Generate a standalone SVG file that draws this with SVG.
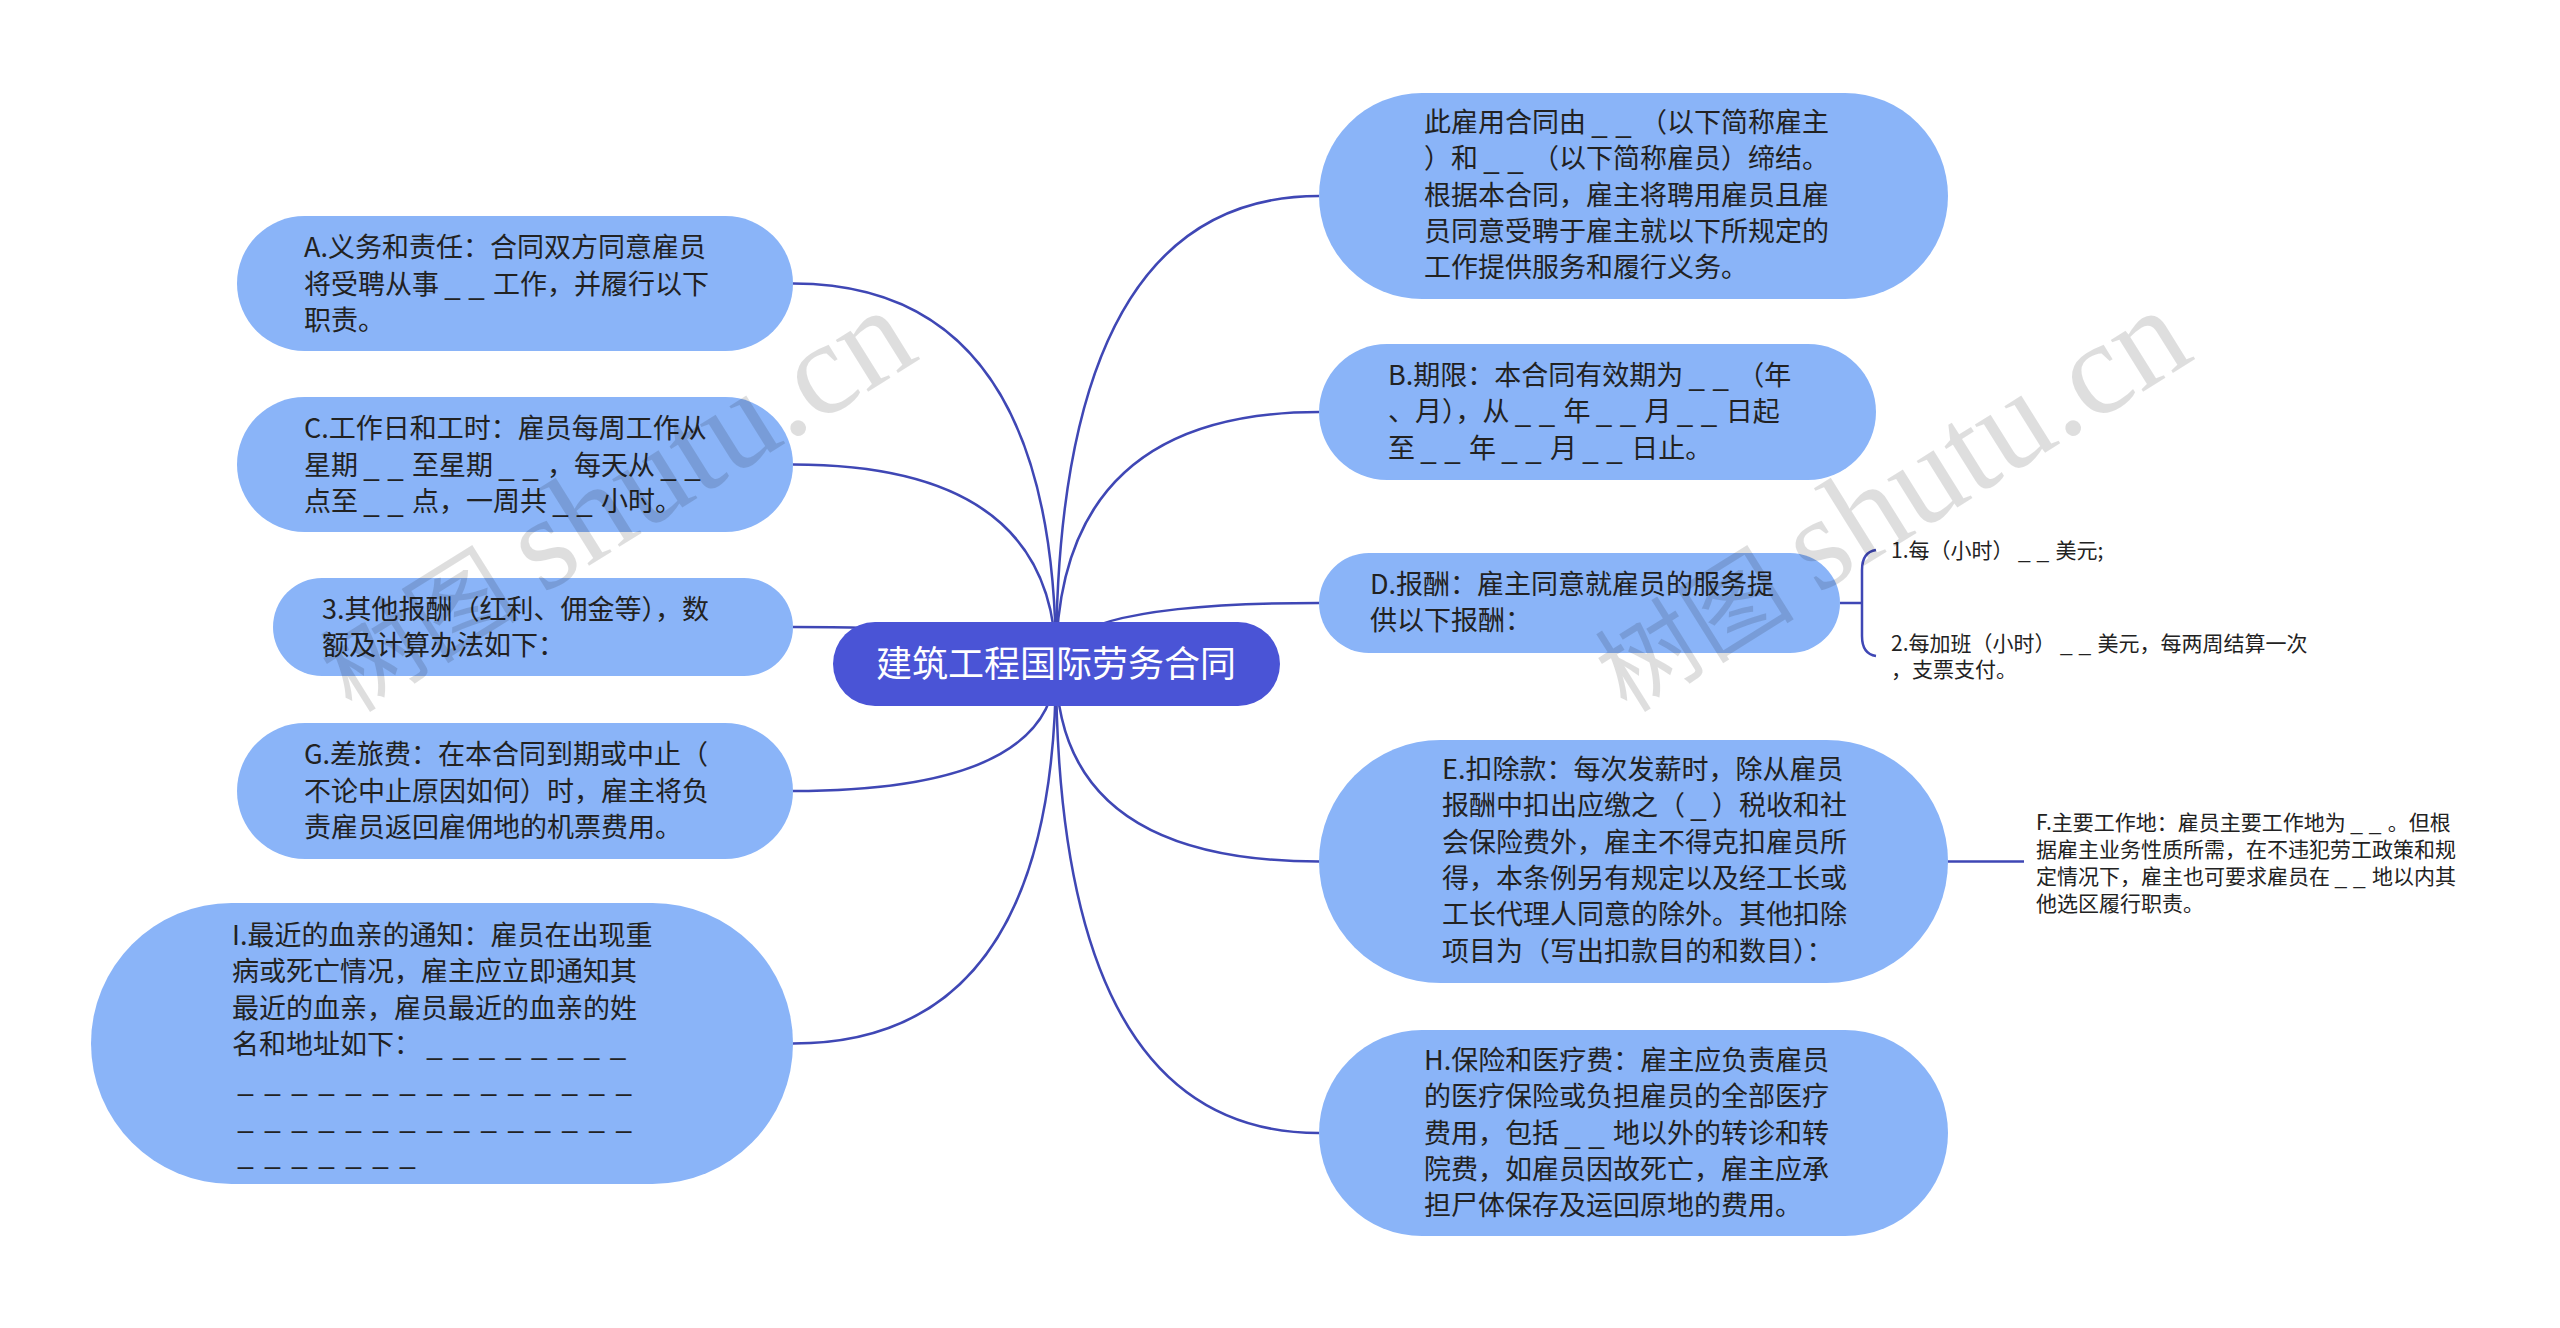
<svg xmlns="http://www.w3.org/2000/svg" width="2560" height="1328" viewBox="0 0 2560 1328">
<style>
.bg{fill:#ffffff}
.link{fill:none;stroke:#3f47b5;stroke-width:2.5}
.node{fill:#8ab4f8}
.root{fill:#4a54d6}
.t{font-family:"Noto Sans CJK SC","Noto Sans",sans-serif;font-size:27px;fill:#222}
.s{font-family:"Noto Sans CJK SC","Noto Sans",sans-serif;font-size:21px;fill:#222}
.u,.u1,.u2,.u8,.us2{font-family:"Liberation Sans",sans-serif}
.u{letter-spacing:12px}
.u1{letter-spacing:6px}
.u2{letter-spacing:9px}
.u8{letter-spacing:11.2px}
.us2{letter-spacing:6.8px}
.rt{font-family:"Noto Sans CJK SC","Noto Sans",sans-serif;font-size:36px;fill:#ffffff}
.wm{font-family:"Liberation Serif","Noto Sans CJK SC",serif;font-size:100px;fill:#000;fill-opacity:0.13}
.wm .l{font-size:133px}
</style>
<rect class="bg" x="0" y="0" width="2560" height="1328"/>
<g id="connectors">
<path class="link" d="M1056 664 Q1056 283.5 793 283.5"/>
<path class="link" d="M1056 664 Q1056 464.5 793 464.5"/>
<path class="link" d="M1056 664 Q1056 627 793 627"/>
<path class="link" d="M1056 664 Q1056 791 793 791"/>
<path class="link" d="M1056 664 Q1056 1043.5 793 1043.5"/>
<path class="link" d="M1056 664 Q1056 196 1319 196"/>
<path class="link" d="M1056 664 Q1056 412 1319 412"/>
<path class="link" d="M1056 664 Q1056 603 1319 603"/>
<path class="link" d="M1056 664 Q1056 861.5 1319 861.5"/>
<path class="link" d="M1056 664 Q1056 1133 1319 1133"/>
<path class="link" d="M1840 603 H1862 M1876 550 Q1862 552 1862 570 V636 Q1862 654 1876 656"/>
<path class="link" d="M1948 861.5 H2024"/>
</g>
<g id="root">
<rect class="root" x="833" y="622" width="447" height="84" rx="42"/>
<text class="rt" x="1056" y="677" text-anchor="middle">建筑工程国际劳务合同</text>
</g>
<g id="nodeA">
<rect class="node" x="237" y="216" width="556" height="135" rx="67.5"/>
<text class="t"><tspan x="304" y="257">A.义务和责任：合同双方同意雇员</tspan><tspan x="304" y="293.5">将受聘从事<tspan class="u2" dx="6">__</tspan>工作，并履行以下</tspan><tspan x="304" y="330">职责。</tspan></text>
</g>
<g id="nodeC">
<rect class="node" x="237" y="397" width="556" height="135" rx="67.5"/>
<text class="t"><tspan x="304" y="438">C.工作日和工时：雇员每周工作从</tspan><tspan x="304" y="474.5">星期<tspan class="u2" dx="6">__</tspan>至星期<tspan class="u2" dx="6">__</tspan>，每天从<tspan class="u2" dx="6">__</tspan></tspan><tspan x="304" y="511">点至<tspan class="u2" dx="6">__</tspan>点，一周共<tspan class="u2" dx="6">__</tspan>小时。</tspan></text>
</g>
<g id="node3">
<rect class="node" x="273" y="578" width="520" height="98" rx="49"/>
<text class="t"><tspan x="322" y="619">3.其他报酬（红利、佣金等），数</tspan><tspan x="322" y="655">额及计算办法如下：</tspan></text>
</g>
<g id="nodeG">
<rect class="node" x="237" y="723" width="556" height="136" rx="68"/>
<text class="t"><tspan x="304" y="764">G.差旅费：在本合同到期或中止（</tspan><tspan x="304" y="800.5">不论中止原因如何）时，雇主将负</tspan><tspan x="304" y="837">责雇员返回雇佣地的机票费用。</tspan></text>
</g>
<g id="nodeI">
<rect class="node" x="91" y="903" width="702" height="281" rx="140.5"/>
<text class="t"><tspan x="232" y="945">I.最近的血亲的通知：雇员在出现重</tspan><tspan x="232" y="981.3">病或死亡情况，雇主应立即通知其</tspan><tspan x="232" y="1017.6">最近的血亲，雇员最近的血亲的姓</tspan><tspan x="232" y="1053.9">名和地址如下：<tspan class="u8" dx="6">________</tspan></tspan><tspan x="238" y="1090.2" class="u">_______________</tspan><tspan x="238" y="1126.5" class="u">_______________</tspan><tspan x="238" y="1162.8" class="u">_______</tspan></text>
</g>
<g id="nodeR1">
<rect class="node" x="1319" y="93" width="629" height="206" rx="103"/>
<text class="t"><tspan x="1424" y="132">此雇用合同由<tspan class="u2" dx="6">__</tspan>（以下简称雇主</tspan><tspan x="1424" y="168.3">）和<tspan class="u2" dx="6">__</tspan>（以下简称雇员）缔结。</tspan><tspan x="1424" y="204.6">根据本合同，雇主将聘用雇员且雇</tspan><tspan x="1424" y="240.9">员同意受聘于雇主就以下所规定的</tspan><tspan x="1424" y="277.2">工作提供服务和履行义务。</tspan></text>
</g>
<g id="nodeB">
<rect class="node" x="1319" y="344" width="557" height="136" rx="68"/>
<text class="t"><tspan x="1388" y="385">B.期限：本合同有效期为<tspan class="u2" dx="6">__</tspan>（年</tspan><tspan x="1388" y="421.3">、月），从<tspan class="u2" dx="6">__</tspan>年<tspan class="u2" dx="6">__</tspan>月<tspan class="u2" dx="6">__</tspan>日起</tspan><tspan x="1388" y="457.6">至<tspan class="u2" dx="6">__</tspan>年<tspan class="u2" dx="6">__</tspan>月<tspan class="u2" dx="6">__</tspan>日止。</tspan></text>
</g>
<g id="nodeD">
<rect class="node" x="1319" y="553" width="521" height="100" rx="50"/>
<text class="t"><tspan x="1370" y="594">D.报酬：雇主同意就雇员的服务提</tspan><tspan x="1370" y="630">供以下报酬：</tspan></text>
</g>
<g id="nodeD1">
<text class="s" x="1891" y="558">1.每（小时）<tspan class="us2" dx="5">__</tspan>美元;</text>
</g>
<g id="nodeD2">
<text class="s"><tspan x="1891" y="651">2.每加班（小时）<tspan class="us2" dx="5">__</tspan>美元，每两周结算一次</tspan><tspan x="1891" y="677">，支票支付。</tspan></text>
</g>
<g id="nodeE">
<rect class="node" x="1319" y="740" width="629" height="243" rx="121.5"/>
<text class="t"><tspan x="1442" y="779">E.扣除款：每次发薪时，除从雇员</tspan><tspan x="1442" y="815.3">报酬中扣出应缴之（<tspan class="u1" dx="6">_</tspan>）税收和社</tspan><tspan x="1442" y="851.6">会保险费外，雇主不得克扣雇员所</tspan><tspan x="1442" y="887.9">得，本条例另有规定以及经工长或</tspan><tspan x="1442" y="924.2">工长代理人同意的除外。其他扣除</tspan><tspan x="1442" y="960.5">项目为（写出扣款目的和数目）：</tspan></text>
</g>
<g id="nodeF">
<text class="s"><tspan x="2036" y="830">F.主要工作地：雇员主要工作地为<tspan class="us2" dx="5">__</tspan>。但根</tspan><tspan x="2036" y="857">据雇主业务性质所需，在不违犯劳工政策和规</tspan><tspan x="2036" y="884">定情况下，雇主也可要求雇员在<tspan class="us2" dx="5">__</tspan>地以内其</tspan><tspan x="2036" y="911">他选区履行职责。</tspan></text>
</g>
<g id="nodeH">
<rect class="node" x="1319" y="1030" width="629" height="206" rx="103"/>
<text class="t"><tspan x="1424" y="1070">H.保险和医疗费：雇主应负责雇员</tspan><tspan x="1424" y="1106.3">的医疗保险或负担雇员的全部医疗</tspan><tspan x="1424" y="1142.6">费用，包括<tspan class="u2" dx="6">__</tspan>地以外的转诊和转</tspan><tspan x="1424" y="1178.9">院费，如雇员因故死亡，雇主应承</tspan><tspan x="1424" y="1215.2">担尸体保存及运回原地的费用。</tspan></text>
</g>
<g id="watermarks">
<text class="wm" transform="translate(352 714) rotate(-32)">树图 <tspan class="l">shutu.cn</tspan></text>
<text class="wm" transform="translate(1627 714) rotate(-32)">树图 <tspan class="l">shutu.cn</tspan></text>
</g>
</svg>
